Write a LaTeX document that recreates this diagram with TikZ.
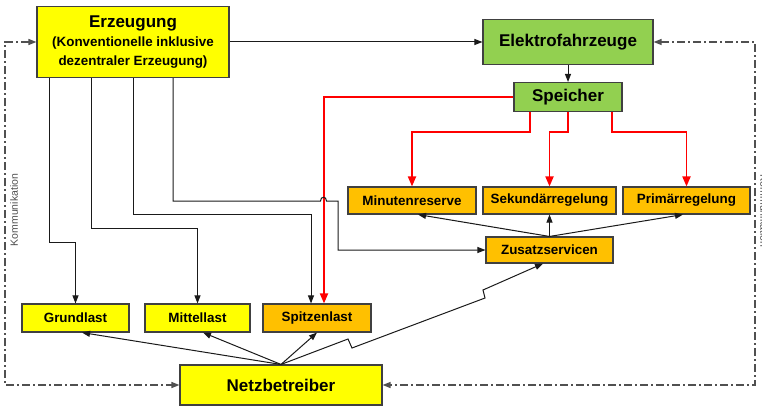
\documentclass[tikz,border=0pt]{standalone}
\usepackage{fontspec}
\setmainfont{Liberation Sans}
\usetikzlibrary{arrows.meta}
\definecolor{yel}{HTML}{FFFF00}
\definecolor{grn}{HTML}{92D050}
\definecolor{org}{HTML}{FFC000}
\definecolor{boxline}{HTML}{404040}
\definecolor{lineg}{HTML}{1A1A1A}
\definecolor{commg}{HTML}{505050}
\begin{document}
\begin{tikzpicture}[x=1pt,y=-1pt,
  box/.style={draw=boxline, line width=1.1pt, inner sep=0pt, align=center,
    font=\bfseries\fontsize{13.4}{19}\selectfont},
  big/.style={font=\bfseries\fontsize{17}{19}\selectfont},
  ybox/.style={box, fill=yel},
  gbox/.style={box, fill=grn},
  obox/.style={box, fill=org},
  arr/.style={draw=lineg, line width=1pt, -{Triangle[length=8pt,width=6pt]}},
  rarr/.style={draw=red, line width=1.8pt, -{Triangle[length=10pt,width=8pt]}},
  comm/.style={draw=commg, line width=1.2pt, dash pattern=on 8pt off 3pt on 2pt off 3pt,
    {Triangle[length=8pt,width=6pt]}-{Triangle[length=8pt,width=6pt]}},
  kom/.style={text=commg, font=\fontsize{10.5}{12}\selectfont, inner sep=0pt}
]
\useasboundingbox (0,0) rectangle (762,406);

% nodes
\node[ybox, minimum width=192pt, minimum height=71pt] (erz) at (133,42)
  {{\fontsize{17}{19}\selectfont Erzeugung}\\(Konventionelle inklusive\\dezentraler Erzeugung)};
\node[gbox, big, minimum width=170pt, minimum height=45pt] (elek) at (568,42) {Elektrofahrzeuge};
\node[gbox, big, minimum width=108pt, minimum height=29pt] (spei) at (568,97) {Speicher};
\node[obox, minimum width=128pt, minimum height=27pt] (minut) at (412,200.5) {Minutenreserve};
\node[obox, minimum width=133pt, minimum height=27pt] (sek) at (549.5,200.5) {Sekundärregelung};
\node[obox, minimum width=127pt, minimum height=27pt] (prim) at (686.5,200.5) {Primärregelung};
\node[obox, minimum width=127pt, minimum height=26pt] (zus) at (549.5,250) {Zusatzservicen};
\node[ybox, minimum width=107pt, minimum height=28pt] (grund) at (75.5,318) {Grundlast};
\node[ybox, minimum width=105pt, minimum height=28pt] (mittel) at (197.5,318) {Mittellast};
\node[obox, minimum width=108pt, minimum height=28pt] (spitz) at (317,318) {Spitzenlast};
\node[ybox, big, minimum width=202pt, minimum height=40pt] (netz) at (281,385) {Netzbetreiber};

\node[kom, rotate=90] (k1) at (14,210) {Kommunikation};
\node[kom, rotate=-90] (k2) at (764,211) {Kommunikation};

% communication loops
\draw[comm] (erz.west) -- (erz.west -| 5,0) -- (netz.west -| 5,0) -- (netz.west);
\draw[comm] (elek.east) -- (elek.east -| 755,0) -- (netz.east -| 755,0) -- (netz.east);

% top connectors
\draw[arr] (erz.east) -- (elek.west);
\draw[arr] (elek.south) -- (spei.north);

% red lines from Speicher
\draw[rarr] (spei.west) -| (spitz.north -| 324,0);
\draw[rarr] (spei.south -| 530,0) -- (530,132) -| (minut.north);
\draw[rarr] (spei.south) -- (568,132) -| (sek.north);
\draw[rarr] (spei.south -| 612,0) -- (612,132) -| (prim.north);

% lines from Erzeugung
\draw[arr] (erz.south -| 49,0) |- (grund.north |- 0,242) -- (grund.north);
\draw[arr] (erz.south -| 91,0) |- (mittel.north |- 0,228) -- (mittel.north);
\draw[arr] (erz.south -| 133,0) |- (311,214) -- (spitz.north -| 311,0);
\draw[arr] (erz.south -| 173,0) -- (173,201) -- (320.5,201)
  .. controls (320.5,196) and (326.5,196) .. (326.5,201) -- (338,201) -- (338,250) -- (zus.west);

% Zusatzservicen to regelung
\draw[arr] (zus.north) -- (minut.south -| 418,0);
\draw[arr] (zus.north) -- (sek.south);
\draw[arr] (zus.north) -- (prim.south -| 683,0);

% Netzbetreiber to loads
\draw[arr] (netz.north) -- (grund.south -| 82,0);
\draw[arr] (netz.north) -- (mittel.south -| 203,0);
\draw[arr] (netz.north) -- (spitz.south);
\draw[arr] (netz.north) -- (348,339) -- (352,348) -- (485,298) -- (483,290) -- (zus.south -| 543,0);
\end{tikzpicture}
\end{document}
